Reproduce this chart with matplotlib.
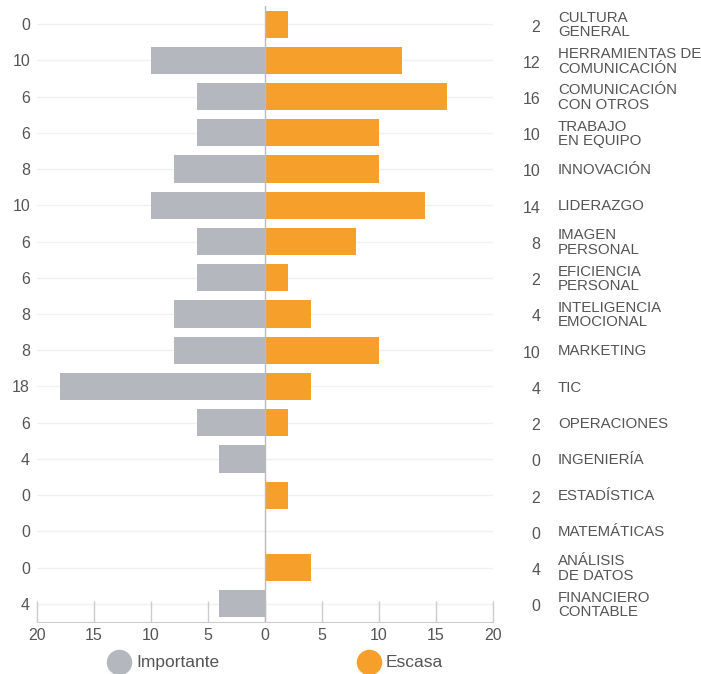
import numpy as np
import matplotlib.pyplot as plt
from matplotlib.transforms import blended_transform_factory

plt.rcParams['font.family'] = ['Liberation Sans', 'DejaVu Sans']

# competencias (de arriba a abajo)
categorias = [
    'CULTURA\nGENERAL', 'HERRAMIENTAS DE\nCOMUNICACIÓN', 'COMUNICACIÓN\nCON OTROS',
    'TRABAJO\nEN EQUIPO', 'INNOVACIÓN', 'LIDERAZGO', 'IMAGEN\nPERSONAL',
    'EFICIENCIA\nPERSONAL', 'INTELIGENCIA\nEMOCIONAL', 'MARKETING', 'TIC',
    'OPERACIONES', 'INGENIERÍA', 'ESTADÍSTICA', 'MATEMÁTICAS',
    'ANÁLISIS\nDE DATOS', 'FINANCIERO\nCONTABLE',
]
importante = [0, 10, 6, 6, 8, 10, 6, 6, 8, 8, 18, 6, 4, 0, 0, 0, 4]
escasa = [2, 12, 16, 10, 10, 14, 8, 2, 4, 10, 4, 2, 0, 2, 0, 4, 0]

gris = '#b4b7be'
naranja = '#f79f2b'
texto = '#555555'

fig = plt.figure(figsize=(7.01, 6.74), dpi=100)
ax = fig.add_axes([37 / 701, 1 - 622 / 674, 456 / 701, 616 / 674])

y = np.arange(len(categorias))
alto = 0.75

for yi in y:
    ax.axhline(yi, color='#f0f0f0', lw=1, zorder=0)

ax.barh(y, -np.array(importante), height=alto, color=gris, zorder=2)
ax.barh(y, escasa, height=alto, color=naranja, zorder=2)
ax.axvline(0, color='#bbbbbb', lw=1, zorder=3)

ax.set_xlim(-20, 20)
ax.set_ylim(len(categorias) - 0.5, -0.5)

xt = np.arange(-20, 21, 5)
ax.set_xticks(xt)
ax.set_xticklabels([str(abs(v)) for v in xt])
ax.tick_params(axis='x', direction='in', length=15, width=1, color='#cccccc',
               labelsize=11.5, labelcolor=texto, pad=4)

ax.set_yticks(y)
ax.set_yticklabels([str(v) for v in importante])
ax.tick_params(axis='y', length=0, labelsize=11.5, labelcolor=texto, pad=5)

for s in ['top', 'left', 'right']:
    ax.spines[s].set_visible(False)
ax.spines['bottom'].set_color('#cccccc')

# valores "Escasa" y nombres a la derecha
trans = blended_transform_factory(ax.transAxes, ax.transData)
for yi, val, nombre in zip(y, escasa, categorias):
    ax.text(1.104, yi + 0.08, str(val), transform=trans, ha='right', va='center',
            fontsize=11.5, color=texto)
    ax.text(1.142, yi + 0.03, nombre, transform=trans, ha='left', va='center',
            fontsize=10.8, color=texto, linespacing=1.05)

# leyenda
ax.scatter([0.18], [-0.065], s=300, color=gris, transform=ax.transAxes, clip_on=False)
ax.text(0.217, -0.065, 'Importante', transform=ax.transAxes, ha='left', va='center',
        fontsize=12.5, color=texto)
ax.scatter([0.728], [-0.065], s=300, color=naranja, transform=ax.transAxes, clip_on=False)
ax.text(0.765, -0.065, 'Escasa', transform=ax.transAxes, ha='left', va='center',
        fontsize=12.5, color=texto)

fig.savefig('out.png', dpi=100)
